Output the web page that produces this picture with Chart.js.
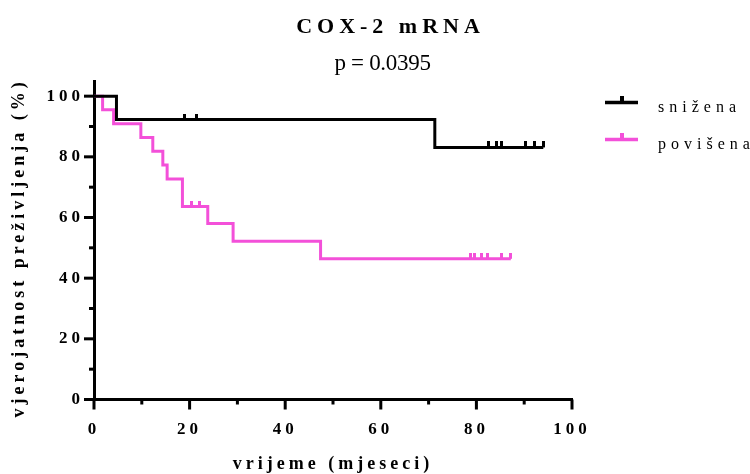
<!DOCTYPE html>
<html>
<head>
<meta charset="utf-8">
<script src="https://cdn.jsdelivr.net/npm/chart.js@4.4.1/dist/chart.umd.min.js"></script>
<style>
  html, body { margin: 0; padding: 0; background: #fff; }
  #wrap { width: 750px; height: 474px; }
</style>
</head>
<body>
<div id="wrap"><canvas id="kmChart" width="750" height="474"></canvas></div>
<script>
// --- DATA ---
const groupLabels = ['snižena', 'povišena'];
const groupColors = ['#000000', '#f350d9'];

// Kaplan-Meier steps: time (months) -> survival (%) after each event
const lowTimes = [0, 4.7, 71.3, 94.0];
const lowSurvival = [100, 92.3, 83.1, 83.1];
const lowCensorTimes = [19.0, 21.5, 82.5, 84.3, 85.2, 90.2, 92.1, 94.0];
const lowCensorSurvival = [92.3, 92.3, 83.1, 83.1, 83.1, 83.1, 83.1, 83.1];

const highTimes = [0, 1.8, 4.1, 9.8, 12.3, 14.4, 15.3, 18.5, 23.8, 29.1, 47.4, 87.2];
const highSurvival = [100, 95.5, 90.9, 86.4, 81.8, 77.3, 72.7, 63.6, 58.0, 52.2, 46.4, 46.4];
const highCensorTimes = [20.4, 22.0, 78.7, 79.5, 81.0, 82.4, 85.3, 87.2];
const highCensorSurvival = [63.6, 63.6, 46.4, 46.4, 46.4, 46.4, 46.4, 46.4];

const chartTitle = 'COX-2 mRNA';
const pValueText = 'p = 0.0395';
const xAxisTitle = 'vrijeme (mjeseci)';
const yAxisTitle = 'vjerojatnost preživljenja (%)';

// --- TEXT SPACING (canvas letterSpacing by font size) ---
const serif = "'Liberation Serif', 'Times New Roman', serif";
const letterSpacingBySize = { '22': 5, '23': -0.3, '17': 4, '16': 5, '18': 4 };

const canvas = document.getElementById('kmChart');
const ctx = canvas.getContext('2d');
const rawFillText = ctx.fillText;
ctx.fillText = function (...args) {
  const m = /(\d+(?:\.\d+)?)px/.exec(this.font);
  this.letterSpacing = ((m && letterSpacingBySize[m[1]]) || 0) + 'px';
  return rawFillText.apply(this, args);
};

function toPoints(xs, ys) {
  return xs.map((x, i) => ({ x: x, y: ys[i] }));
}

// small vertical tick sitting on top of the curve
function censorMark(color) {
  const c = document.createElement('canvas');
  c.width = 3;
  c.height = 12;
  const g = c.getContext('2d');
  g.fillStyle = color;
  g.fillRect(0, 0, 3, 6);
  return c;
}

const decor = {
  id: 'decor',
  afterDraw(chart) {
    const c = chart.ctx;
    const xs = chart.scales.x, ys = chart.scales.y;
    const x0 = xs.getPixelForValue(0), y0 = ys.getPixelForValue(0);
    c.save();
    c.fillStyle = '#000';

    // outward tick marks, long on labelled values
    xs.ticks.forEach(t => {
      const len = t.value % 20 === 0 ? 10 : 5;
      c.fillRect(xs.getPixelForValue(t.value) - 1.5, y0, 3, len);
    });
    ys.ticks.forEach(t => {
      const len = t.value % 20 === 0 ? 10 : 5;
      c.fillRect(x0 - len, ys.getPixelForValue(t.value) - 1.5, len, 3);
    });

    // titles
    c.textAlign = 'center';
    c.textBaseline = 'alphabetic';
    c.font = 'bold 22px ' + serif;
    c.fillText(chartTitle, 390.5, 33.3);
    c.font = '23px ' + serif;
    c.fillText(pValueText, 382.5, 70);

    // y axis title, centred on the 0-100 range
    c.save();
    c.translate(19, (y0 + ys.getPixelForValue(100)) / 2);
    c.rotate(-Math.PI / 2);
    c.font = 'bold 18px ' + serif;
    c.textBaseline = 'middle';
    c.fillText(yAxisTitle, 0, 0);
    c.restore();

    // legend
    chart.data.datasets.filter(d => d.label).forEach((d, i) => {
      const y = 102.5 + i * 37;
      c.fillStyle = d.borderColor;
      c.fillRect(605, y - 1.75, 33, 3.5);
      c.fillRect(620, y - 6.5, 4, 5);
      c.fillStyle = '#000';
      c.font = '16px ' + serif;
      c.textAlign = 'left';
      c.fillText(d.label, 658, y + 9.5);
    });
    c.restore();
  }
};

const tickFont = { family: serif, size: 17, weight: 'bold' };

new Chart(ctx, {
  type: 'scatter',
  data: {
    datasets: [
      { data: toPoints(lowCensorTimes, lowCensorSurvival), pointStyle: censorMark(groupColors[0]), pointRadius: 3 },
      { data: toPoints(highCensorTimes, highCensorSurvival), pointStyle: censorMark(groupColors[1]), pointRadius: 3 },
      {
        label: groupLabels[0],
        data: toPoints(lowTimes, lowSurvival),
        showLine: true, stepped: true,
        borderColor: groupColors[0], borderWidth: 3, pointRadius: 0
      },
      {
        label: groupLabels[1],
        data: toPoints(highTimes, highSurvival),
        showLine: true, stepped: true,
        borderColor: groupColors[1], borderWidth: 3, pointRadius: 0
      }
    ]
  },
  options: {
    responsive: false,
    animation: false,
    layout: { padding: { top: 81, right: 178, bottom: 0, left: 0 } },
    plugins: { legend: { display: false }, tooltip: { enabled: false } },
    scales: {
      x: {
        type: 'linear', min: 0, max: 100,
        ticks: {
          stepSize: 10, autoSkip: false, maxRotation: 0, padding: 20,
          color: '#000', font: tickFont,
          callback: v => (v % 20 === 0 ? v : '')
        },
        grid: { display: false, drawTicks: false },
        border: { display: true, width: 3, color: '#000' },
        title: {
          display: true, text: xAxisTitle, color: '#000',
          font: { family: serif, size: 18, weight: 'bold' },
          padding: { top: 0, bottom: -1 }
        },
        afterFit: s => { s.height = 74.5; }
      },
      y: {
        type: 'linear', min: 0, max: 105,
        ticks: {
          stepSize: 10, autoSkip: false, padding: 10, includeBounds: false,
          color: '#000', font: tickFont,
          callback: v => (v % 20 === 0 ? v : '')
        },
        afterBuildTicks: s => { s.ticks = s.ticks.filter(t => t.value <= 100); },
        grid: { display: false, drawTicks: false },
        border: { display: true, width: 3, color: '#000' },
        afterFit: s => { s.width = 94; }
      }
    }
  },
  plugins: [decor]
});
</script>
</body>
</html>
